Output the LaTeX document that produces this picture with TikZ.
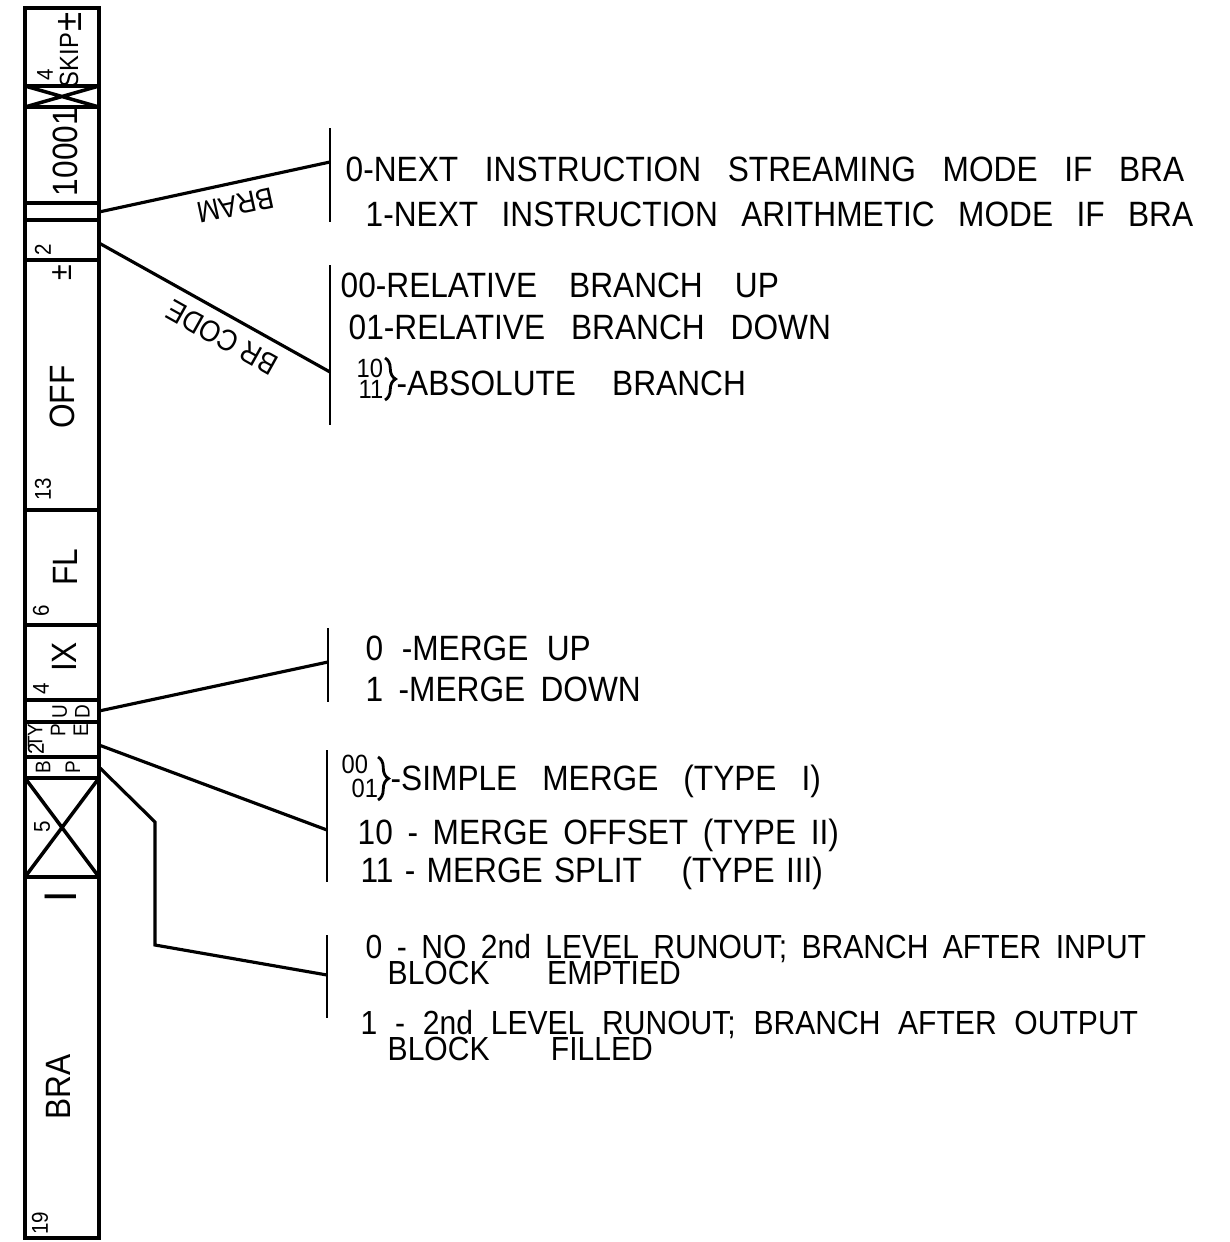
\documentclass[tikz,border=0pt]{standalone}
\usepackage{fontspec}
\usepackage{tikz}
\usetikzlibrary{decorations.pathreplacing}
\newfontfamily\lettering[FakeStretch=0.9]{Liberation Sans}
\newcommand\spread[2]{\makebox[#1][s]{#2}}

\tikzset{
  field/.style={line width=1pt},
  fieldtext/.style={rotate=90, inner sep=0pt, font=\lettering\fontsize{10}{11}\selectfont},
  bitcount/.style={rotate=90, inner sep=0pt, font=\lettering\fontsize{6.5}{7}\selectfont},
  smalltext/.style={rotate=90, inner sep=0pt, font=\lettering\fontsize{6}{6.5}\selectfont},
  lead/.style={line width=0.9pt},
  bracket/.style={line width=0.8pt},
  entry/.style={anchor=base west, inner sep=0pt, font=\lettering\fontsize{10}{12}\selectfont},
  code/.style={anchor=base west, inner sep=0pt, font=\lettering\fontsize{7.5}{9}\selectfont},
  tag/.style={inner sep=3pt, anchor=south, font=\lettering\fontsize{8.5}{10}\selectfont},
  curly/.style={decorate, decoration={brace, amplitude=3pt}, line width=0.8pt},
}

\begin{document}
\begin{tikzpicture}[x=0.01cm, y=-0.01cm]
\useasboundingbox (0,0) rectangle (1230,1242);

% instruction word
\draw[field] (25,8) rectangle (99,1238);
\foreach \y in {86,107,203,220,260,510,625,700,722,757,778,877}
  \draw[field] (25,\y) -- (99,\y);
\draw[field] (25,86) -- (99,107) (25,107) -- (99,86);
\draw[field] (25,778) -- (99,877) (25,877) -- (99,778);

\node[fieldtext, font=\lettering\fontsize{11}{11}\selectfont] (skippm) at (70,22) {±};
\node[smalltext, font=\lettering\fontsize{7.5}{8}\selectfont] (skip) at (69,60) {SKIP};
\node[bitcount] (skipbits) at (45,75) {4};
\node[fieldtext] (ones) at (65,152) {10001};
\node[bitcount] (codebits) at (43,250) {2};
\node[fieldtext, font=\lettering\fontsize{9}{9}\selectfont] (offpm) at (62,273) {±};
\node[fieldtext] (off) at (62,397) {OFF};
\node[bitcount] (offbits) at (43,489) {13};
\node[fieldtext] (fl) at (65,567) {FL};
\node[bitcount] (flbits) at (41,611) {6};
\node[fieldtext] (ix) at (64,657) {IX};
\node[bitcount] (ixbits) at (41,689) {4};
\node[smalltext, align=center] (ud) at (71,712) {U\\D};
\node[smalltext, align=right, anchor=east] (ty) at (58,723) {TY\\P\\E};
\node[bitcount] (typebits) at (36,749) {2};
\node[smalltext, align=center] (bp) at (58,767) {B\\[2pt]P};
\node[bitcount] (xbits) at (42,827) {5};
\node[fieldtext, font=\lettering\fontsize{13}{13}\selectfont] (one) at (61,897) {I};
\node[fieldtext] (bra) at (58,1087) {BRA};
\node[bitcount] (brabits) at (40,1223) {19};

% where the leaders start and end
\coordinate (bram) at (99,212);
\coordinate (brcode) at (99,243);
\coordinate (updown) at (99,711);
\coordinate (mergetype) at (99,745);
\coordinate (runout) at (99,767);
\coordinate (bend) at (155,822);
\coordinate (foot) at (155,945);
\coordinate (b1) at (330,162);
\coordinate (b2) at (330,372);
\coordinate (b3) at (328,662);
\coordinate (b4) at (327,830);
\coordinate (b5) at (327,975);

\draw[bracket] (330,128) -- (330,222);
\draw[bracket] (330,265) -- (330,425);
\draw[bracket] (328,628) -- (328,702);
\draw[bracket] (327,750) -- (327,882);
\draw[bracket] (327,935) -- (327,1018);

\draw[lead] (bram) -- node[tag, pos=.57, rotate=192.2] {BRAM} (b1);
\draw[lead] (brcode) -- node[tag, pos=.58, rotate=150.8] {BR CODE} (b2);
\draw[lead] (updown) -- (b3);
\draw[lead] (mergetype) -- (b4);
\draw[lead] (runout) -- (bend) -- (foot) -- (b5);

% BRAM
\node[entry] (bram0) at (345,181) {\spread{8.38cm}{0-NEXT INSTRUCTION STREAMING MODE IF BRA}};
\node[entry] (bram1) at (365,226) {\spread{8.27cm}{1-NEXT INSTRUCTION ARITHMETIC MODE IF BRA}};

% BR CODE
\node[entry] (code00) at (340,297) {\spread{4.38cm}{00-RELATIVE BRANCH UP}};
\node[entry] (code01) at (348,339) {\spread{4.82cm}{01-RELATIVE BRANCH DOWN}};
\node[code] (code10) at (356,377) {10};
\node[code] (code11) at (358,398) {11};
\draw[curly] (385,358) -- (385,400);
\node[entry] (codeabs) at (396,395) {\spread{3.49cm}{-ABSOLUTE BRANCH}};

% up/down
\node[entry] (ud0) at (365,660) {\spread{2.25cm}{0 -MERGE UP}};
\node[entry] (ud1) at (365,701) {\spread{2.75cm}{1 -MERGE DOWN}};

% merge type
\node[code] (type00) at (341,773) {00};
\node[code] (type01) at (351,797) {01};
\draw[curly] (378,757) -- (378,800);
\node[entry] (type0) at (390,790) {\spread{4.3cm}{-SIMPLE MERGE (TYPE I)}};
\node[entry] (type10) at (357,844) {\spread{4.81cm}{10 - MERGE OFFSET (TYPE II)}};
\node[entry] (type11) at (360,882) {\spread{4.62cm}{11 - MERGE SPLIT\hspace{0.8em} (TYPE III)}};

% runout
\node[entry, font=\lettering\fontsize{9.5}{11}\selectfont] (run0) at (365,958) {\spread{7.8cm}{0 - NO 2nd LEVEL RUNOUT; BRANCH AFTER INPUT}};
\node[entry, font=\lettering\fontsize{9.5}{11}\selectfont] (run0b) at (387,984) {\spread{2.93cm}{BLOCK EMPTIED}};
\node[entry, font=\lettering\fontsize{9.5}{11}\selectfont] (run1) at (360,1034) {\spread{7.77cm}{1 - 2nd LEVEL RUNOUT; BRANCH AFTER OUTPUT}};
\node[entry, font=\lettering\fontsize{9.5}{11}\selectfont] (run1b) at (387,1060) {\spread{2.65cm}{BLOCK FILLED}};
\end{tikzpicture}
\end{document}
